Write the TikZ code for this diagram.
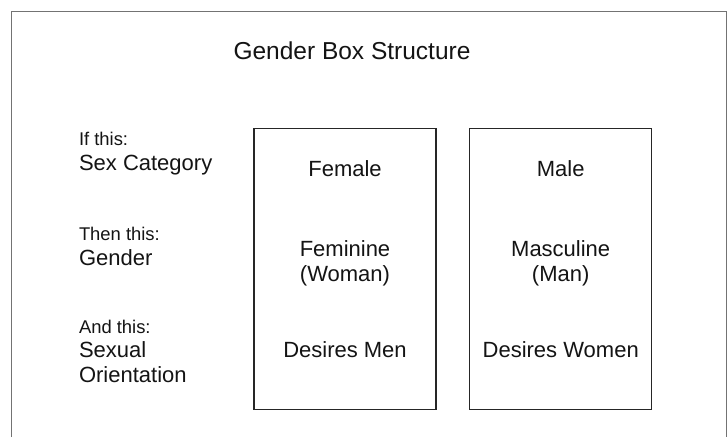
\documentclass[tikz,border=0pt]{standalone}
\usepackage{fontspec}
\setmainfont{Liberation Sans}
\begin{document}
\begin{tikzpicture}[x=1pt,y=-1pt,
  every node/.style={inner sep=0pt, outer sep=0pt, text=black!92},
  titletext/.style={font=\fontsize{24.5}{29}\selectfont},
  smalllabel/.style={anchor=base west, font=\fontsize{18.4}{22}\selectfont},
  biglabel/.style={anchor=base west, font=\fontsize{22}{26}\selectfont},
  boxtext/.style={anchor=base, font=\fontsize{22}{26}\selectfont},
  genderbox/.style={draw=black!85, line width=1.3pt, minimum width=182pt, minimum height=281pt},
  frame/.style={draw=black!55, line width=0.9pt}]
\useasboundingbox (0,0) rectangle (727,437);
\fill[white] (0,0) rectangle (727,437);

% open page frame
\coordinate (fbl) at (11.5,437);
\coordinate (ftl) at (11.5,11.5);
\coordinate (ftr) at (726,11.5);
\coordinate (fbr) at (726,437);
\draw[frame] (fbl) -- (ftl) -- (ftr) -- (fbr);

% title
\node[titletext, anchor=base] (title) at (352,59) {Gender Box Structure};

% row labels
\node[smalllabel] (ifthis) at (79,145.7) {If this:};
\node[biglabel] (sexcat) at (79,170.7) {Sex Category};
\node[smalllabel] (thenthis) at (79,240.7) {Then this:};
\node[biglabel] (gender) at (79,265) {Gender};
\node[smalllabel] (andthis) at (79,333.3) {And this:};
\node[biglabel] (sexual) at (79,357.8) {Sexual};
\node[biglabel] (orient) at (79,382.7) {Orientation};

% the two boxes
\node[genderbox] (fbox) at (345,269) {};
\node[genderbox] (mbox) at (560.7,269) {};

% contents of the female box
\node[boxtext] (female) at (fbox.north |- 0,176) {Female};
\node[boxtext] (feminine) at (fbox.north |- 0,256) {Feminine};
\node[boxtext] (woman) at (fbox.north |- 0,281) {(Woman)};
\node[boxtext] (desmen) at (fbox.north |- 0,357.5) {Desires Men};

% contents of the male box
\node[boxtext] (male) at (mbox.north |- 0,176) {Male};
\node[boxtext] (masculine) at (mbox.north |- 0,256) {Masculine};
\node[boxtext] (man) at (mbox.north |- 0,281) {(Man)};
\node[boxtext] (deswomen) at (mbox.north |- 0,357.5) {Desires Women};
\end{tikzpicture}
\end{document}
